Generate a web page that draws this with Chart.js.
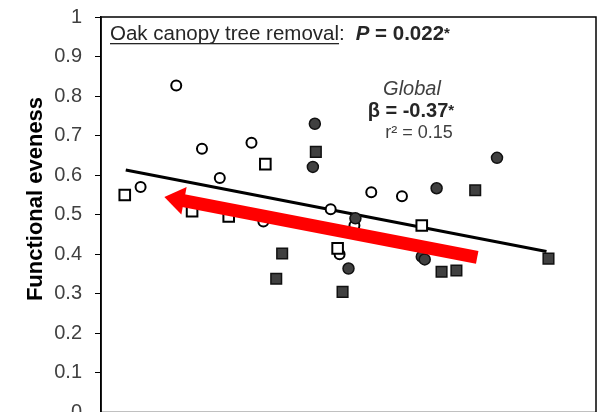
<!DOCTYPE html>
<html>
<head>
<meta charset="utf-8">
<script src="https://cdn.jsdelivr.net/npm/chart.js@4"></script>
<style>
  html, body { margin: 0; padding: 0; background: #fff; overflow: hidden; }
  #wrap { width: 608px; height: 412px; position: relative; overflow: hidden; }
</style>
</head>
<body>
<div id="wrap"><canvas id="c" width="608" height="422"></canvas></div>
<script>
// ---- data ----
const openCircleX = [0.40, 0.76, 1.02, 1.20, 1.52, 1.64, 2.32, 2.41, 2.56, 2.73, 3.04];
const openCircleY = [0.570, 0.827, 0.667, 0.593, 0.682, 0.483, 0.514, 0.400, 0.473, 0.557, 0.547];

const openSquareX = [0.24, 0.92, 1.29, 1.66, 2.39, 3.24];
const openSquareY = [0.550, 0.509, 0.496, 0.628, 0.415, 0.473];

const filledCircleX = [2.16, 2.14, 2.57, 2.50, 3.24, 3.27, 3.39, 4.00];
const filledCircleY = [0.730, 0.621, 0.491, 0.364, 0.394, 0.387, 0.567, 0.644];

const filledSquareX = [2.17, 1.83, 1.77, 2.44, 3.44, 3.59, 3.78, 4.52];
const filledSquareY = [0.659, 0.402, 0.338, 0.305, 0.356, 0.359, 0.562, 0.389];

const fitX = [0.25, 4.50];
const fitY = [0.613, 0.407];

const arrowFrom = [3.80, 0.392];
const arrowTo = [0.64, 0.545];

const yTicks = [0, 0.1, 0.2, 0.3, 0.4, 0.5, 0.6, 0.7, 0.8, 0.9, 1];

const titleMain = 'Oak canopy tree removal';
const titleP = '= 0.022';
const globalLabel = 'Global';
const betaLabel = 'β = -0.37';
const r2Label = 'r² = 0.15';
const yAxisTitle = 'Functional eveness';

const zip = (xs, ys) => xs.map((x, i) => ({ x: x, y: ys[i] }));

const FONT = '"Liberation Sans", Arial, sans-serif';

const framePlugin = {
  id: 'frame',
  afterDatasetsDraw(chart) {
    const { ctx, scales } = chart;
    // red arrow
    const x1 = scales.x.getPixelForValue(arrowFrom[0]);
    const y1 = scales.y.getPixelForValue(arrowFrom[1]);
    const x2 = scales.x.getPixelForValue(arrowTo[0]);
    const y2 = scales.y.getPixelForValue(arrowTo[1]);
    const ang = Math.atan2(y2 - y1, x2 - x1);
    const headLen = 20, headHalf = 14, shaft = 13;
    const bx = x2 - headLen * Math.cos(ang);
    const by = y2 - headLen * Math.sin(ang);
    ctx.save();
    ctx.strokeStyle = '#ff0000';
    ctx.lineWidth = shaft;
    ctx.lineCap = 'butt';
    ctx.beginPath();
    ctx.moveTo(x1, y1);
    ctx.lineTo(bx + 2 * Math.cos(ang), by + 2 * Math.sin(ang));
    ctx.stroke();
    ctx.fillStyle = '#ff0000';
    ctx.beginPath();
    ctx.moveTo(x2, y2);
    ctx.lineTo(bx + headHalf * Math.sin(ang), by - headHalf * Math.cos(ang));
    ctx.lineTo(bx - headHalf * Math.sin(ang), by + headHalf * Math.cos(ang));
    ctx.closePath();
    ctx.fill();
    ctx.restore();
  },
  afterDraw(chart) {
    const { ctx, chartArea: a } = chart;
    ctx.save();
    // frame
    ctx.strokeStyle = '#000';
    ctx.lineWidth = 1.5;
    ctx.strokeRect(a.left, a.top, a.right - a.left, a.bottom - a.top);

    // title line
    ctx.textBaseline = 'alphabetic';
    ctx.textAlign = 'left';
    ctx.fillStyle = '#262626';
    ctx.font = '20.5px ' + FONT;
    const tx = a.left + 9, ty = a.top + 23;
    ctx.fillText(titleMain, tx, ty);
    const w = ctx.measureText(titleMain).width;
    ctx.fillRect(tx, ty + 3, w, 1.3);
    ctx.fillText(':', tx + w, ty);
    let px = tx + w + ctx.measureText(':').width + 11;
    ctx.font = 'italic bold 20.5px ' + FONT;
    ctx.fillText('P', px, ty);
    px += ctx.measureText('P ').width;
    ctx.font = 'bold 20.5px ' + FONT;
    ctx.fillText(titleP, px, ty);
    px += ctx.measureText(titleP).width;
    ctx.font = 'bold 15px ' + FONT;
    ctx.fillText('*', px, ty - 2);

    // global stats
    ctx.fillStyle = '#404040';
    ctx.textAlign = 'center';
    ctx.font = 'italic 20px ' + FONT;
    ctx.fillText(globalLabel, 412, 95);
    ctx.fillStyle = '#262626';
    ctx.font = 'bold 20px ' + FONT;
    const bw = ctx.measureText(betaLabel).width;
    ctx.textAlign = 'left';
    ctx.fillText(betaLabel, 408 - bw / 2, 117);
    ctx.font = 'bold 15px ' + FONT;
    ctx.fillText('*', 408 + bw / 2, 115);
    ctx.fillStyle = '#404040';
    ctx.textAlign = 'center';
    ctx.font = '18px ' + FONT;
    ctx.fillText(r2Label, 419, 138);

    // y axis title
    ctx.save();
    ctx.translate(42, 199);
    ctx.rotate(-Math.PI / 2);
    ctx.textAlign = 'center';
    ctx.fillStyle = '#000';
    ctx.font = 'bold 22px ' + FONT;
    ctx.fillText(yAxisTitle, 0, 0);
    ctx.restore();

    ctx.restore();
  }
};

new Chart(document.getElementById('c'), {
  type: 'scatter',
  data: {
    datasets: [
      {
        type: 'line',
        data: zip(fitX, fitY),
        borderColor: '#000',
        borderWidth: 3,
        pointRadius: 0,
        fill: false,
        order: 5
      },
      {
        data: zip(openCircleX, openCircleY),
        pointStyle: 'circle',
        pointRadius: 5,
        pointBackgroundColor: '#fff',
        pointBorderColor: '#000',
        pointBorderWidth: 2,
        order: 4
      },
      {
        data: zip(openSquareX, openSquareY),
        pointStyle: 'rect',
        pointRadius: 7.5,
        pointBackgroundColor: '#fff',
        pointBorderColor: '#000',
        pointBorderWidth: 2,
        order: 3
      },
      {
        data: zip(filledCircleX, filledCircleY),
        pointStyle: 'circle',
        pointRadius: 5.5,
        pointBackgroundColor: '#404040',
        pointBorderColor: '#111',
        pointBorderWidth: 1.5,
        order: 2
      },
      {
        data: zip(filledSquareX, filledSquareY),
        pointStyle: 'rect',
        pointRadius: 7.5,
        pointBackgroundColor: '#404040',
        pointBorderColor: '#111',
        pointBorderWidth: 1.5,
        order: 1
      }
    ]
  },
  options: {
    responsive: false,
    animation: false,
    events: [],
    layout: { padding: { top: 17, right: 12, left: 0, bottom: 0 } },
    plugins: { legend: { display: false }, tooltip: { enabled: false } },
    scales: {
      x: {
        type: 'linear',
        min: 0,
        max: 5,
        ticks: { display: false, stepSize: 1 },
        grid: { drawOnChartArea: false, drawTicks: true, tickLength: 6, color: '#000', lineWidth: 1 },
        border: { display: true, color: '#000', width: 1.5 },
        afterFit(s) { s.height = 2; s.paddingLeft = 0; s.paddingRight = 0; s.paddingTop = 0; s.paddingBottom = 0; }
      },
      y: {
        type: 'linear',
        min: 0,
        max: 1,
        afterBuildTicks(s) { s.ticks = yTicks.map(v => ({ value: v })); },
        ticks: {
          padding: 13,
          color: '#404040',
          font: { family: FONT, size: 20 },
          callback: v => String(Math.round(v * 10) / 10)
        },
        grid: { drawOnChartArea: false, drawTicks: true, tickLength: 6, color: '#000', lineWidth: 1 },
        border: { display: true, color: '#000', width: 1.5 },
        afterFit(s) { s.width = 101; s.paddingTop = 0; s.paddingBottom = 0; s.paddingLeft = 0; s.paddingRight = 0; }
      }
    }
  },
  plugins: [framePlugin]
});
</script>
</body>
</html>
